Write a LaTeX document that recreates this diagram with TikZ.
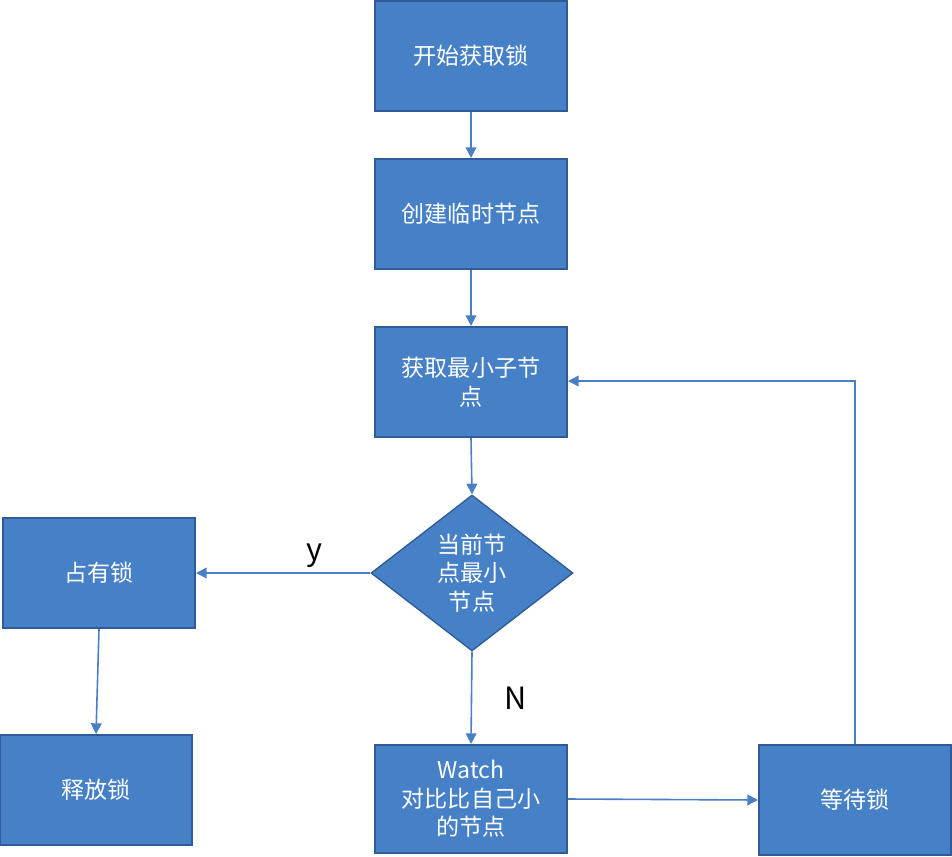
\documentclass[tikz,border=0pt]{standalone}
\usepackage{fontspec}
\setmainfont{Noto Sans CJK SC}
\usetikzlibrary{shapes.geometric,arrows.meta}
\definecolor{boxfill}{HTML}{4680C6}
\definecolor{boxline}{HTML}{2F5B96}
\definecolor{conn}{HTML}{4A7EC5}
\begin{document}
\begin{tikzpicture}[x=0.75pt,y=-0.75pt,
  box/.style={draw=boxline,line width=1.5pt,fill=boxfill,text=white,minimum width=192*0.75pt,minimum height=110*0.75pt,inner sep=0pt,font=\fontsize{17.3}{21.5}\selectfont,align=center},
  dec/.style={diamond,draw=boxline,line width=1pt,fill=boxfill,text=white,minimum width=202*0.75pt,minimum height=156*0.75pt,inner sep=0pt,aspect=1.3,font=\fontsize{17.3}{21.5}\selectfont,align=center},
  arr/.style={draw=conn,line width=1.2pt,-{Triangle[length=8pt,width=8pt]}},
  lbl/.style={font=\fontsize{23}{26}\selectfont,text=black}]
\useasboundingbox (0,0) rectangle (952,856);
\node[box] (start) at (471,56) {开始获取锁};
\node[box] (create) at (471,214) {创建临时节点};
\node[box] (getmin) at (471,382) {获取最小子节\\点};
\node[dec] (check) at (472,573) {};
\node[text=white,font=\fontsize{17.3}{21.5}\selectfont,align=center] (checkt) at (472,573) {当前节\\点最小\\节点};
\node[box] (own) at (99,573) {占有锁};
\node[box] (release) at (96,790) {释放锁};
\node[box,minimum height=108*0.75pt] (watch) at (471,799) {Watch\\对比比自己小\\的节点};
\node[box] (wait) at (855,800) {等待锁};
\coordinate (corner) at (855,381);
\draw[arr] (start.south) -- (create.north);
\draw[arr] (create.south) -- (getmin.north);
\draw[arr] (getmin.south) -- (check.north);
\draw[arr] (check.west) -- (own.east) node[lbl,pos=0.32,above] (ylab) {y};
\draw[arr] (check.south) -- (watch.north);
\node[lbl] (nlab) at (516,698) {N};
\draw[arr] (own.south) -- (release.north);
\draw[arr] (watch.east) -- (wait.west);
\draw[arr] (wait.north) -- (corner) -- (getmin.east |- corner);
\end{tikzpicture}
\end{document}
